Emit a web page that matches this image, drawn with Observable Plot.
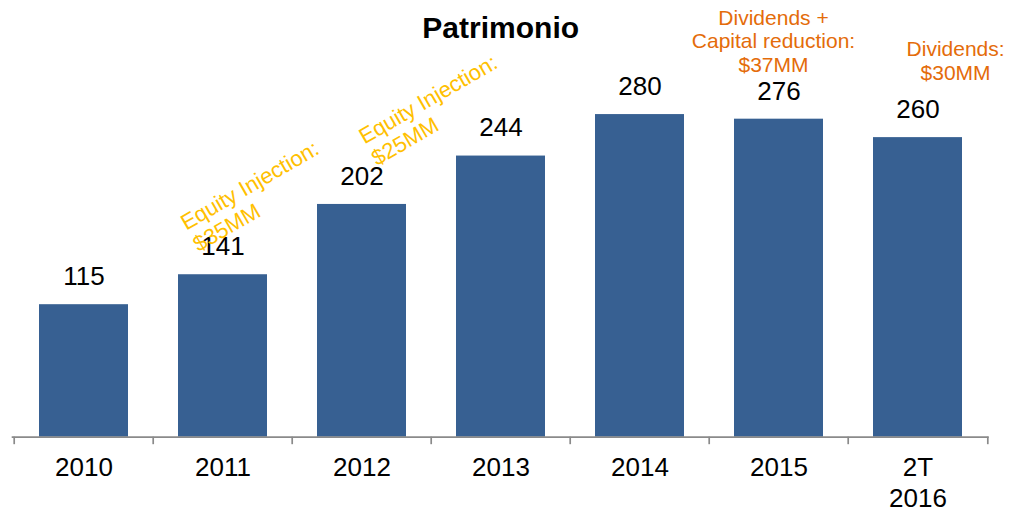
<!DOCTYPE html>
<html>
<head>
<meta charset="utf-8">
<script src="https://cdn.jsdelivr.net/npm/d3@7"></script>
<script src="https://cdn.jsdelivr.net/npm/@observablehq/plot@0.6"></script>
<style>
  html, body { margin: 0; padding: 0; background: #fff; }
  #chart { width: 1009px; height: 514px; }
</style>
</head>
<body>
<div id="chart"></div>
<script>
// ---- data ----
const title = "Patrimonio";
const categories = ["2010", "2011", "2012", "2013", "2014", "2015", "2T 2016"];
const tickLabels = ["2010", "2011", "2012", "2013", "2014", "2015", "2T\n2016"];
const values = [115, 141, 202, 244, 280, 276, 260];

const injectionCategories = ["2011", "2012"];
const injectionTexts = ["Equity Injection:\n$35MM", "Equity Injection:\n$25MM"];
const injectionLevels = [192.5, 267.2];

const dividendCategories = ["2015", "2T 2016"];
const dividendTexts = ["Dividends +\nCapital reduction:\n$37MM", "Dividends:\n$30MM"];
const dividendLevels = [344, 327.2];

// ---- tables ----
const bars = categories.map((c, i) => ({cat: c, value: values[i]}));
const labelOf = new Map(categories.map((c, i) => [c, tickLabels[i]]));
const injections = injectionCategories.map((c, i) => ({cat: c, text: injectionTexts[i], level: injectionLevels[i]}));
const dividends = dividendCategories.map((c, i) => ({cat: c, text: dividendTexts[i], level: dividendLevels[i]}));

const axisColor = "#8a8a8a";
const halfStep = 69.8;

const chart = Plot.plot({
  width: 1009,
  height: 514,
  marginLeft: 11.7,
  marginRight: 20.3,
  marginTop: 0,
  marginBottom: 77.3,
  style: {fontFamily: "'Liberation Sans', Arial, sans-serif", color: "#000", background: "#fff"},
  x: {domain: categories, paddingInner: 0.363, paddingOuter: 0.1815, axis: null},
  y: {domain: [0, 379], axis: null},
  marks: [
    Plot.barY(bars, {x: "cat", y: "value", fill: "#376092"}),
    Plot.ruleY([0], {stroke: axisColor, strokeWidth: 1.7}),
    Plot.ruleX(categories, {x: d => d, y1: 0, y2: -6.5, dx: -halfStep, stroke: axisColor, strokeWidth: 1.7}),
    Plot.ruleX([categories[categories.length - 1]], {x: d => d, y1: 0, y2: -6.5, dx: halfStep, stroke: axisColor, strokeWidth: 1.7}),
    Plot.axisX({
      label: null,
      tickSize: 0,
      tickPadding: 17,
      fontSize: 26,
      lineHeight: 1.19,
      tickFormat: d => labelOf.get(d),
      fill: "#000"
    }),
    Plot.text(bars, {x: "cat", y: "value", text: d => String(d.value), dy: -28, fontSize: 26, fill: "#000"}),
    Plot.text([title], {frameAnchor: "top", lineAnchor: "middle", dy: 28, fontSize: 30, fontWeight: "bold", fill: "#000"}),
    Plot.text([injections[0]], {
      x: "cat", y: "level", text: "text", dx: -45.7,
      rotate: -30, textAnchor: "start", lineAnchor: "top",
      fontSize: 22, lineHeight: 1.13, fill: "#FFC000"
    }),
    Plot.text([injections[1]], {
      x: "cat", y: "level", text: "text", dx: -6.3,
      rotate: -30, textAnchor: "start", lineAnchor: "top",
      fontSize: 22, lineHeight: 1.13, fill: "#FFC000"
    }),
    Plot.text([dividends[0]], {
      x: "cat", y: "level", text: "text", dx: -5.5,
      textAnchor: "middle", lineAnchor: "middle",
      fontSize: 21, lineHeight: 1.13, fill: "#E46C0A"
    }),
    Plot.text([dividends[1]], {
      x: "cat", y: "level", text: "text", dx: 37.6,
      textAnchor: "middle", lineAnchor: "middle",
      fontSize: 21, lineHeight: 1.15, fill: "#E46C0A"
    })
  ]
});

document.getElementById("chart").appendChild(chart);
</script>
</body>
</html>
